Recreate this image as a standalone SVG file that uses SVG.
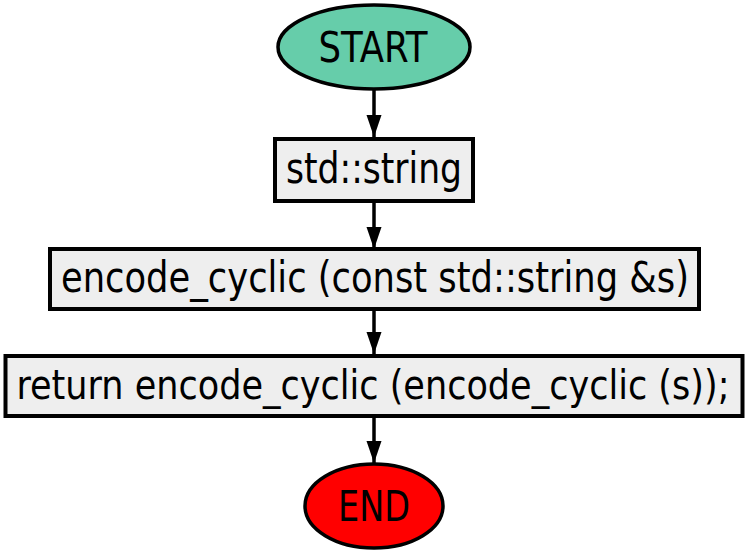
<svg xmlns="http://www.w3.org/2000/svg" width="749" height="556" viewBox="0 0 749 556">
<style>
.lbl{font-family:"DejaVu Sans Condensed","DejaVu Sans",sans-serif;font-size:42px;fill:#000;text-anchor:middle}
.long{font-size:40px}
.box{fill:#eeeeee;stroke:#000;stroke-width:4}
.term{stroke:#000;stroke-width:3.5}
.edge{fill:none;stroke:#000;stroke-width:3.5}
</style>
<defs>
<marker id="arr" markerUnits="userSpaceOnUse" markerWidth="24" markerHeight="16" refX="22" refY="8" orient="auto" viewBox="0 0 24 16">
<path d="M0,0.5 L22,8 L0,15.5 Z" fill="#000"/>
</marker>
</defs>
<g id="connectors">
<path class="edge" d="M374,90 L374,137" marker-end="url(#arr)"/>
<path class="edge" d="M374,202 L374,249" marker-end="url(#arr)"/>
<path class="edge" d="M374,310 L374,354" marker-end="url(#arr)"/>
<path class="edge" d="M374,417 L374,463" marker-end="url(#arr)"/>
</g>
<g id="start">
<ellipse class="term" cx="374" cy="47" rx="96" ry="42" fill="#66cdaa"/>
<text class="lbl" x="373" y="62" textLength="109" lengthAdjust="spacingAndGlyphs">START</text>
</g>
<g id="decl">
<rect class="box" x="275" y="139" width="198" height="62"/>
<text class="lbl" x="374" y="183" textLength="176" lengthAdjust="spacingAndGlyphs">std::string</text>
</g>
<g id="func">
<rect class="box" x="50" y="249" width="649" height="60"/>
<text class="lbl" x="375" y="292" textLength="628" lengthAdjust="spacingAndGlyphs">encode_cyclic (const std::string &amp;s)</text>
</g>
<g id="ret">
<rect class="box" x="5.5" y="356" width="737" height="60"/>
<text class="lbl long" x="373" y="399" textLength="713" lengthAdjust="spacingAndGlyphs">return encode_cyclic (encode_cyclic (s));</text>
</g>
<g id="end">
<ellipse class="term" cx="374" cy="506" rx="69" ry="42" fill="#ff0000"/>
<text class="lbl" x="374" y="521" textLength="72" lengthAdjust="spacingAndGlyphs">END</text>
</g>
</svg>
